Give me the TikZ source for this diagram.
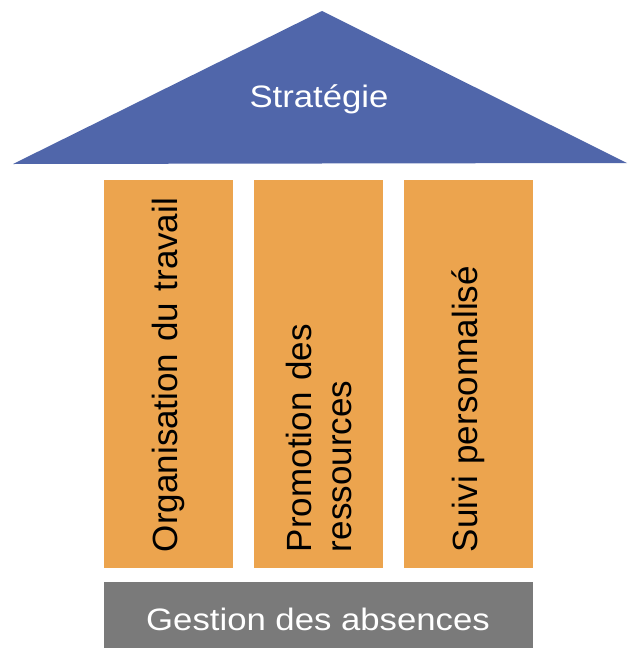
\documentclass[tikz,border=0pt]{standalone}
\usepackage{fontspec}
\setmainfont{Liberation Sans}
\newfontfamily\widefont{Liberation Sans}[FakeStretch=1.12]
\definecolor{roofblue}{RGB}{80,102,170}
\definecolor{pillarorange}{RGB}{236,164,78}
\definecolor{basegray}{RGB}{122,122,122}

\begin{document}
\begin{tikzpicture}[
    x=1pt, y=-1pt,
    roof/.style={fill=roofblue},
    pillar/.style={rotate=90, fill=pillarorange, minimum width=388pt, minimum height=129pt, text width=356pt, align=left, inner sep=0pt, font=\fontsize{35}{40}\selectfont},
    foundation/.style={fill=basegray, minimum width=429pt, minimum height=66pt, inner sep=0pt},
    caption/.style={white, font=\widefont\fontsize{31}{37}\selectfont}
]
\useasboundingbox (0,0) rectangle (627,648);

% Roof
\coordinate (roofleft) at (13,164);
\coordinate (apex) at (322,11);
\coordinate (roofright) at (627,163);
\fill[roof] (roofleft) -- (apex) -- (roofright) -- cycle;
\node[caption, anchor=base] (strategie) at (319,107) {Stratégie};

% Pillars
\node[pillar] (organisation) at (168.5,374) {Organisation du travail};
\node[pillar] (promotion) at (318.5,374) {Promotion des\\ressources};
\node[pillar] (suivi) at (468.5,374) {Suivi personnalisé};

% Foundation
\node[foundation] (gestion) at (318.5,615) {};
\node[caption, anchor=base] (gestionlabel) at (318,630) {Gestion des absences};

\end{tikzpicture}
\end{document}
